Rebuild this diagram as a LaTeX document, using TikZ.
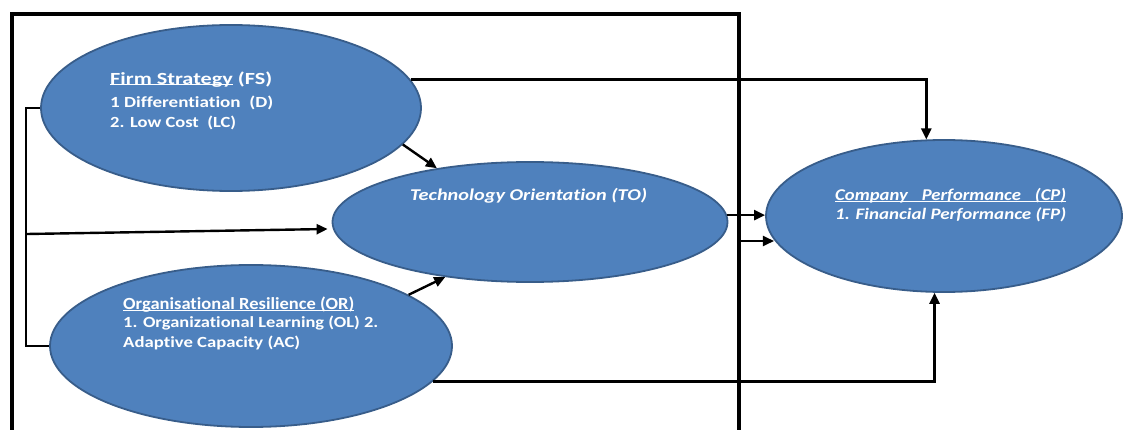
\documentclass[tikz,border=0pt]{standalone}
\usepackage{fontspec}
\usepackage{graphicx}
\setmainfont{Carlito}[Ligatures=CommonOff]
\usetikzlibrary{shapes.geometric,arrows.meta,calc}
\definecolor{ovalfill}{HTML}{4F81BD}
\definecolor{ovalline}{HTML}{385D8A}
% underline sitting on the baseline
\newcommand\ulbox[1]{\setbox0=\hbox{#1}\rlap{\rule[-1.2pt]{\wd0}{1.1pt}}\box0\relax}
% set a line to a given width, keeping its height
\newcommand\fitto[2]{\resizebox{#1}{\height}{#2}}
\tikzset{
  oval/.style={ellipse, draw=ovalline, line width=1.8pt, fill=ovalfill, inner sep=0pt},
  txt/.style={anchor=base west, inner sep=0pt, text=white},
  head/.style={txt, font=\fontsize{17}{20}\selectfont\bfseries},
  item/.style={txt, font=\fontsize{15.5}{18}\selectfont\bfseries},
  ihead/.style={txt, font=\fontsize{16.5}{20}\selectfont\bfseries\itshape},
  iitem/.style={txt, font=\fontsize{16}{19}\selectfont\bfseries\itshape},
  link/.style={line width=2.4pt, draw=black},
  arr/.style={link, -{Triangle[length=11pt,width=10pt]}},
  boxline/.style={line width=3.4pt, draw=black}
}
\begin{document}
\begin{tikzpicture}[x=1pt,y=-1pt]
\useasboundingbox (0,0) rectangle (1123,430);

% enclosing frame, open at the bottom
\draw[boxline] (12,440) -- (12,14) -- (739,14) -- (739,440);

% constructs
\node[oval, minimum width=380, minimum height=166] (FS) at (231,108) {};
\node[oval, minimum width=395, minimum height=120] (TO) at (530,222) {};
\node[oval, minimum width=356, minimum height=152] (CP) at (944,216) {};
\node[oval, minimum width=402, minimum height=162] (OR) at (251,346) {};

% texts
\node[head] (FSt) at (110,84.3) {\fitto{162pt}{\ulbox{Firm Strategy} (FS)}};
\node[item] (FS1) at (110,107.5) {\fitto{163pt}{1 Differentiation~ (D)}};
\node[item] (FS2) at (110,127.5) {\fitto{126pt}{2. Low Cost~ (LC)}};

\node[ihead] (TOt) at (410,200.5) {\fitto{237pt}{Technology Orientation (TO)}};

\node[ihead] (CPt) at (835,201) {\fitto{231pt}{\ulbox{Company\hspace{0.75em}Performance\hspace{0.75em}(CP)}}};
\node[iitem] (CP1) at (835,220) {\fitto{231pt}{1. Financial Performance (FP)}};

\node[head] (ORt) at (123,309.5) {\fitto{231pt}{\ulbox{Organisational Resilience (OR)}}};
\node[item] (OR1) at (123,327.5) {\fitto{255pt}{1. Organizational Learning (OL) 2.}};
\node[item] (OR2) at (123,347.5) {\fitto{177pt}{Adaptive Capacity (AC)}};

% left bus joining FS and OR, with a branch into TO
\draw[link] (FS.west) -| ($(OR.west)+(-23,0)$) -- (OR.west);
\coordinate (tap) at (27,234);
\draw[arr] (tap) -- ($(TO.west)+(-4,7)$);

% paths into TO
\draw[arr] (FS.-12) -- (TO.150);
\draw[arr] (OR.18) -- (TO.213);

% paths into CP
\draw[arr] (TO.2) -- (TO.2 -| CP.west);
\coordinate (boxout) at (739,241);
\draw[arr] (boxout) -- (boxout -| CP.188);
\draw[arr] (FS.9) -| (CP.103);
\draw[arr] (OR.-11) -| (CP.263);
\end{tikzpicture}
\end{document}
